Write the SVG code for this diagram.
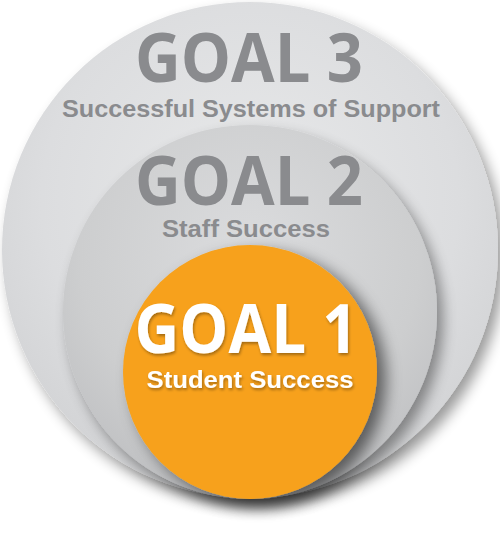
<svg xmlns="http://www.w3.org/2000/svg" width="500" height="536" viewBox="0 0 500 536">
  <defs>
    <radialGradient id="g3" cx="0.5" cy="0.4" r="0.6">
      <stop offset="0" stop-color="#e8e9ea"/>
      <stop offset="0.7" stop-color="#dcdddf"/>
      <stop offset="1" stop-color="#d2d3d5"/>
    </radialGradient>
    <radialGradient id="g2" cx="0.5" cy="0.35" r="0.65">
      <stop offset="0" stop-color="#dbdcde"/>
      <stop offset="0.7" stop-color="#cdcecf"/>
      <stop offset="1" stop-color="#c0c1c3"/>
    </radialGradient>
    <filter id="sh" x="-20%" y="-20%" width="150%" height="150%">
      <feGaussianBlur in="SourceAlpha" stdDeviation="7"/>
      <feOffset dx="6" dy="8" result="b"/>
      <feComponentTransfer><feFuncA type="linear" slope="0.4"/></feComponentTransfer>
      <feMerge><feMergeNode/><feMergeNode in="SourceGraphic"/></feMerge>
    </filter>
    <filter id="sh1" x="-20%" y="-20%" width="150%" height="150%">
      <feGaussianBlur in="SourceAlpha" stdDeviation="8"/>
      <feOffset dx="9" dy="7"/>
      <feComponentTransfer><feFuncA type="linear" slope="0.55"/></feComponentTransfer>
      <feMerge><feMergeNode/><feMergeNode in="SourceGraphic"/></feMerge>
    </filter>
    <filter id="tsh" x="-10%" y="-10%" width="120%" height="130%">
      <feGaussianBlur in="SourceAlpha" stdDeviation="1.5"/>
      <feOffset dx="1" dy="2"/>
      <feComponentTransfer><feFuncA type="linear" slope="0.35"/></feComponentTransfer>
      <feMerge><feMergeNode/><feMergeNode in="SourceGraphic"/></feMerge>
    </filter>
  </defs>
  <style>
    .goal { font-family: "Open Sans", "DejaVu Sans", sans-serif; font-weight: 700; font-size: 68px; text-anchor: middle; }
    .sub { font-family: "Liberation Sans", Arial, sans-serif; font-weight: 700; text-anchor: middle; }
    .gray { fill: #8a8b8e; }
    .white { fill: #ffffff; }
  </style>
  <g id="goal3">
    <circle cx="250" cy="250" r="248" fill="url(#g3)" filter="url(#sh)"/>
    <text class="goal gray" x="249" y="82" textLength="228" lengthAdjust="spacingAndGlyphs">GOAL 3</text>
    <text class="sub gray" x="251" y="117" font-size="23.5" textLength="378" lengthAdjust="spacingAndGlyphs">Successful Systems of Support</text>
  </g>
  <g id="goal2">
    <circle cx="250" cy="312" r="187" fill="url(#g2)" filter="url(#sh)"/>
    <text class="goal gray" x="249" y="205" textLength="228" lengthAdjust="spacingAndGlyphs">GOAL 2</text>
    <text class="sub gray" x="246" y="237" font-size="23" textLength="168" lengthAdjust="spacingAndGlyphs">Staff Success</text>
  </g>
  <g id="goal1">
    <circle cx="250" cy="372" r="127" fill="#f7a11b" filter="url(#sh1)"/>
    <g filter="url(#tsh)">
      <text class="goal white" x="246" y="353" textLength="223" lengthAdjust="spacingAndGlyphs">GOAL 1</text>
      <text class="sub white" x="250" y="388" font-size="23" textLength="207" lengthAdjust="spacingAndGlyphs">Student Success</text>
    </g>
  </g>
  <g id="connectors"/>
</svg>
